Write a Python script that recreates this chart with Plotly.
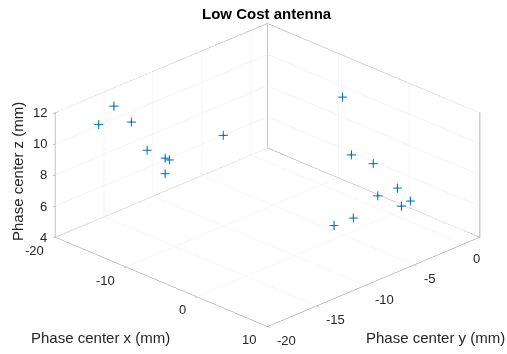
import plotly.graph_objects as go

# Phase center coordinates (mm)
x_mm = [-17.6, -17.8, -15.2, -13.8, -12.5, -11.9, -12.5, -8.3, -5.0, -2.5, -0.8, -0.3, 1.1, 1.8, 2.1, 0.4, 0.3]
y_mm = [-17.3, -15.6, -15.7, -15.1, -14.2, -14.2, -14.2, -11.3, -1.5, -2.4, -1.4, -1.3, -0.3, -0.4, 0.3, -4.3, -6.2]
z_mm = [11.0, 11.7, 11.2, 9.5, 9.0, 9.0, 8.0, 10.5, 11.0, 8.0, 7.5, 5.5, 6.0, 5.0, 5.2, 5.0, 5.0]

x_range = [-20, 10]
y_range = [-20, 1.7]
z_range = [4, 12]
x_ticks = [-20, -10, 0, 10]
y_ticks = [-20, -15, -10, -5, 0]
z_ticks = [4, 6, 8, 10, 12]

title_text = "Low Cost antenna"
x_label = "Phase center x (mm)"
y_label = "Phase center y (mm)"
z_label = "Phase center z (mm)"

font_fam = "Liberation Sans, Arial, sans-serif"
tick_font = dict(family=font_fam, size=13, color="#262626")
lab_font = dict(family=font_fam, size=15, color="#262626")
edge_col = "#9a9a9a"

fig = go.Figure()

# back edges of the axes box (MATLAB "box on" style), built from the axis limits
x0, x1 = x_range
y0, y1 = y_range
z0, z1 = z_range
bx = [x0, x0, x1, x1, x0, x0, None, x0, x0]
by = [y0, y1, y1, y1, y1, y0, None, y1, y1]
bz = [z1, z1, z1, z0, z0, z0, None, z0, z1]
fig.add_trace(go.Scatter3d(x=bx, y=by, z=bz, mode="lines",
                           line=dict(color=edge_col, width=1.5),
                           hoverinfo="skip", connectgaps=False))

fig.add_trace(go.Scatter3d(
    x=x_mm, y=y_mm, z=z_mm, mode="markers",
    marker=dict(symbol="cross", size=5, color="#0072BD"),
))

def ax(rng, ticks):
    return dict(
        range=rng, tickvals=ticks, autorange=False,
        showbackground=False, showgrid=True, gridcolor="#ebebeb", gridwidth=1,
        zeroline=False, showline=True, linecolor="#8a8a8a", linewidth=1,
        ticks="outside", ticklen=3, tickcolor="#8a8a8a",
        showticklabels=False,
        title=dict(text=""), showspikes=False,
    )

# tick labels as scene annotations (horizontal like the reference)
scene_ann = []
for t in x_ticks:
    scene_ann.append(dict(x=t, y=y_range[0], z=z_range[0], text=str(t),
                          showarrow=False, xanchor="right", yanchor="middle",
                          xshift=-9, yshift=-13, font=tick_font))
for t in y_ticks:
    scene_ann.append(dict(x=x_range[1], y=t, z=z_range[0], text=str(t),
                          showarrow=False, xanchor="left", yanchor="middle",
                          xshift=8, yshift=-14, font=tick_font))
for t in z_ticks:
    scene_ann.append(dict(x=x_range[0], y=y_range[0], z=t, text=str(t),
                          showarrow=False, xanchor="right", yanchor="middle",
                          xshift=-6, yshift=0, font=tick_font))

W, H = 507, 354
def px(xp, yp):
    return xp / W, 1 - yp / H

ann = []
for txt, (xp, yp), fnt, ang in [
    ("<b>" + title_text + "</b>", (267, 13), dict(family=font_fam, size=15, color="black"), 0),
    (x_label, (100, 337), lab_font, 0),
    (y_label, (435, 337), lab_font, 0),
    (z_label, (17, 172), lab_font, -90),
]:
    ax_, ay_ = px(xp, yp)
    ann.append(dict(text=txt, x=ax_, y=ay_, xref="paper", yref="paper", showarrow=False,
                    xanchor="center", yanchor="middle", textangle=ang, font=fnt))

fig.update_layout(
    width=W, height=H, margin=dict(l=0, r=0, t=0, b=0),
    paper_bgcolor="white", showlegend=False,
    scene=dict(
        domain=dict(x=[0.055, 1], y=[0.0113, 1]),
        xaxis=ax(x_range, x_ticks),
        yaxis=ax(y_range, y_ticks),
        zaxis=ax(z_range, z_ticks),
        aspectmode="manual", aspectratio=dict(x=1.716, y=1.716, z=0.784),
        camera=dict(projection=dict(type="orthographic"),
                    eye=dict(x=1.25, y=-1.25, z=0.82),
                    center=dict(x=0, y=0, z=0), up=dict(x=0, y=0, z=1)),
        annotations=scene_ann,
    ),
    annotations=ann,
)

fig.write_html("out.html", config={"displayModeBar": False},
               post_script="document.body.style.margin='0';")
